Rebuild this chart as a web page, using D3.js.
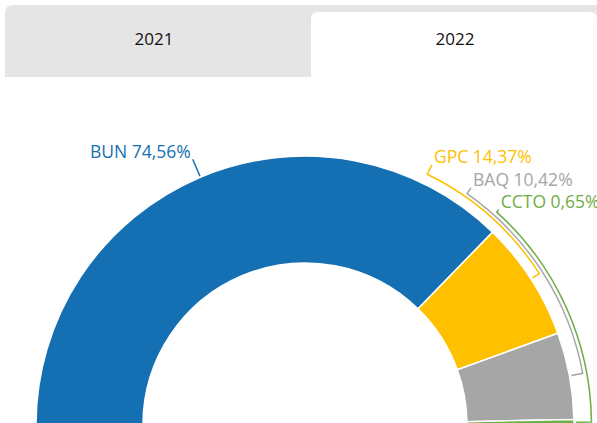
<!DOCTYPE html>
<html>
<head>
  <meta charset="utf-8">
  <title>Share 2022</title>
  <style>
    body { margin: 0; background: #fff; font-family: "Open Sans", sans-serif; }
    svg { display: block; }
  </style>
</head>
<body>
  <div id="chart"></div>

  <script src="https://d3js.org/d3.v7.min.js"></script>
  <script>
    // data
    const tabs = ["2021", "2022"];
    const activeTab = "2022";
    const categories = ["BUN", "GPC", "BAQ", "CCTO"];
    const shares = [74.56, 14.37, 10.42, 0.65];
    const colors = ["#1570b3", "#ffc000", "#a6a6a6", "#70ad47"];

    // layout (where each label sits, degrees from the top, clockwise)
    const labelAngles = [null, 26, 35, 42];
    const bracketRadii = [null, 279, 282.5, 286.5];

    const width = 597, height = 423;
    const cx = 305, cy = 425;
    const outerR = 269, innerR = 162;
    const labelR = 289.5, tickR = 271;

    const svg = d3.select("#chart").append("svg")
      .attr("width", width)
      .attr("height", height);

    // tab bar
    const tabX = d3.scaleBand().domain(tabs).range([5, 617]);
    const tabCenter = d3.scalePoint().domain(tabs).range([154, 455]);
    svg.append("path")
      .attr("d", "M5,77 V13 Q5,5 13,5 H597 V77 Z")
      .attr("fill", "#e5e5e5");
    svg.append("path")
      .attr("d", `M${tabX(activeTab)},78 V19 Q${tabX(activeTab)},12 ${tabX(activeTab) + 7},12 H590 Q597,12 597,19 V78 Z`)
      .attr("fill", "#fff");
    svg.selectAll(".tab")
      .data(tabs)
      .join("text")
      .attr("class", "tab")
      .attr("x", d => tabCenter(d))
      .attr("y", 45)
      .attr("text-anchor", "middle")
      .attr("font-size", 17)
      .attr("fill", "#111")
      .text(d => d);

    // half donut
    const pie = d3.pie()
      .sort(null)
      .startAngle(-Math.PI / 2)
      .endAngle(Math.PI / 2);
    const arcs = pie(shares);

    const arc = d3.arc().innerRadius(innerR).outerRadius(outerR);
    const g = svg.append("g").attr("transform", `translate(${cx},${cy})`);

    g.selectAll(".slice")
      .data(arcs)
      .join("path")
      .attr("class", "slice")
      .attr("d", arc)
      .attr("fill", (d, i) => colors[i])
      .attr("stroke", "#fff")
      .attr("stroke-width", 1.5);

    const rad = d => d * Math.PI / 180;
    const pt = (a, r) => [r * Math.sin(a), -r * Math.cos(a)];
    const fmt = i => `${categories[i]} ${shares[i].toFixed(2).replace(".", ",")}%`;

    arcs.forEach((d, i) => {
      const mid = (d.startAngle + d.endAngle) / 2;
      if (i === 0) {
        // radial leader from the slice edge to the label
        const p0 = pt(mid, outerR + 1), p1 = pt(mid, labelR - 1);
        g.append("line")
          .attr("x1", p0[0]).attr("y1", p0[1])
          .attr("x2", p1[0]).attr("y2", p1[1])
          .attr("stroke", colors[i]).attr("stroke-width", 1.5);
        g.append("text")
          .attr("x", p1[0] - 2).attr("y", p1[1] - 1)
          .attr("text-anchor", "end")
          .attr("font-size", 17.5)
          .attr("fill", colors[i])
          .text(fmt(i));
        return;
      }
      const a0 = rad(labelAngles[i]);
      const rb = bracketRadii[i];
      const top = pt(a0, labelR);
      const s = pt(a0, rb);
      const t = pt(mid, tickR);
      const p = d3.path();
      p.moveTo(top[0], top[1]);
      p.lineTo(s[0], s[1]);
      p.arc(0, 0, rb, a0 - Math.PI / 2, mid - Math.PI / 2);
      p.lineTo(t[0], t[1]);
      g.append("path")
        .attr("d", p.toString())
        .attr("fill", "none")
        .attr("stroke", colors[i])
        .attr("stroke-width", 1.5);
      g.append("text")
        .attr("x", top[0] + 2).attr("y", top[1] - 2)
        .attr("font-size", 17.5)
        .attr("fill", colors[i])
        .text(fmt(i));
    });
  </script>
</body>
</html>
